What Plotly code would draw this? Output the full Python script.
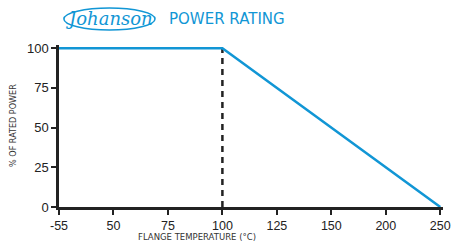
import plotly.graph_objects as go

# Data
tick_labels = ["-55", "50", "75", "100", "125", "150", "200", "250"]
temperatures = ["-55", "100", "250"]
power_pct = [100, 100, 0]
derating_start = "100"
y_ticks = [0, 25, 50, 75, 100]

BLUE = "#1196d5"
INK = "#222222"

fig = go.Figure()

# dashed marker at derating start
fig.add_trace(go.Scatter(
    x=[derating_start, derating_start], y=[0, power_pct[1]],
    mode="lines", line=dict(color=INK, width=2.5, dash="6px,5px"),
    hoverinfo="skip", showlegend=False))

fig.add_trace(go.Scatter(
    x=temperatures, y=power_pct, mode="lines",
    line=dict(color=BLUE, width=2.5), showlegend=False))

fig.update_layout(
    width=460, height=242,
    margin=dict(l=59, r=9, t=45, b=35),
    paper_bgcolor="white", plot_bgcolor="white",
    font=dict(family="Liberation Sans, Arial, sans-serif", color=INK, size=12),
    xaxis=dict(type="category", categoryorder="array", categoryarray=tick_labels,
               tickvals=tick_labels, range=[0, 7.05],
               showgrid=False, zeroline=False,
               showline=True, linecolor=INK, linewidth=2.5,
               ticks="outside", ticklen=5, tickwidth=2, tickcolor=INK,
               ticklabelstandoff=0,
               tickfont=dict(size=12.5, color=INK)),
    yaxis=dict(range=[0, 102], tickvals=y_ticks,
               showgrid=False, zeroline=False,
               showline=True, linecolor=INK, linewidth=2.5,
               ticks="outside", ticklen=5, tickwidth=2, tickcolor=INK,
               tickfont=dict(size=13, color=INK)),
    showlegend=False,
)

# titles
fig.add_annotation(text="FLANGE TEMPERATURE (°C)", xref="paper", yref="paper",
                   x=(200 - 59) / 392, y=0, yshift=-29.5, xanchor="center", yanchor="middle",
                   showarrow=False, font=dict(size=8.5, color="#333333", family="DejaVu Sans, sans-serif"))
fig.add_annotation(text="% OF RATED POWER", xref="paper", yref="paper",
                   x=0, xshift=-46, y=0.5, textangle=-90, xanchor="center", yanchor="middle",
                   showarrow=False, font=dict(size=9, color="#333333", family="DejaVu Sans Condensed, sans-serif"))

# header: logo + title
fig.add_shape(type="circle", xref="paper", yref="paper",
              x0=(64 - 59) / 392, x1=(157 - 59) / 392,
              y0=(242 - 35 - 30) / 162, y1=(242 - 35 - 8) / 162,
              line=dict(color=BLUE, width=1.5))
fig.add_annotation(text="<i>Johanson</i>", xref="paper", yref="paper",
                   x=(110 - 59) / 392, y=(242 - 35 - 19) / 162, xanchor="center", yanchor="middle",
                   showarrow=False, font=dict(size=18, color=BLUE, family="DejaVu Serif, serif"))
fig.add_annotation(text="POWER RATING", xref="paper", yref="paper",
                   x=(169 - 59) / 392, y=(242 - 35 - 19) / 162, xanchor="left", yanchor="middle",
                   showarrow=False, font=dict(size=15, color=BLUE, family="DejaVu Sans, sans-serif"))

fig.write_html("out.html", config={"displayModeBar": False},
               post_script="document.body.style.margin='0';document.body.style.overflow='hidden';")
